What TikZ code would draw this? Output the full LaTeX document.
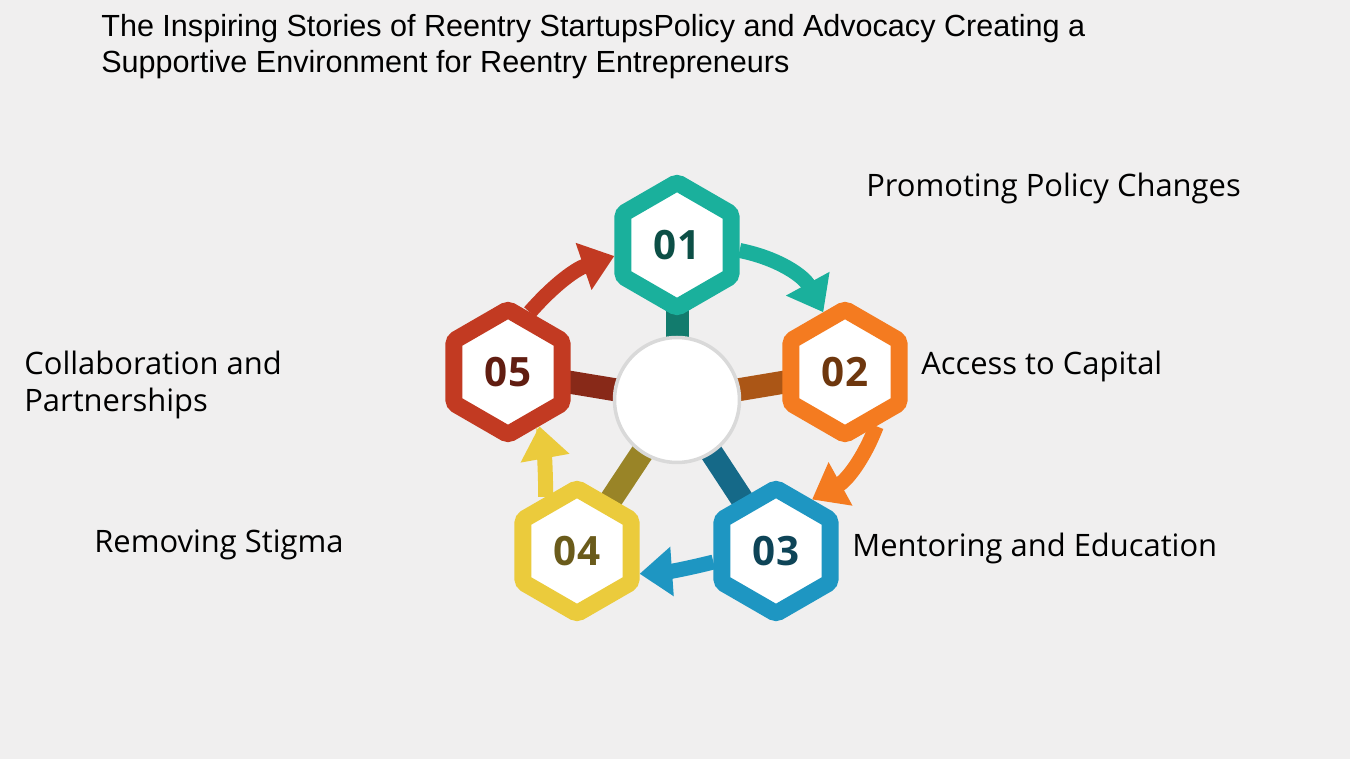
\documentclass[tikz,border=0pt]{standalone}
\usepackage{fontspec}
\setmainfont{Open Sans}
\newfontfamily\titlefont{Liberation Sans}
\usetikzlibrary{shapes.geometric,arrows.meta}
\definecolor{bgray}{HTML}{F0EFEF}
\definecolor{cteal}{HTML}{1AB09C}
\definecolor{corange}{HTML}{F47B20}
\definecolor{cblue}{HTML}{1E96C2}
\definecolor{cyellow}{HTML}{EBCB3C}
\definecolor{cred}{HTML}{C23A22}
\tikzset{
  hexa/.style={regular polygon, regular polygon sides=6, shape border rotate=30,
    minimum size=2.5cm, line width=0.34cm, fill=white, rounded corners=2pt,
    font=\fontsize{23}{23}\selectfont\bfseries},
  label/.style={font=\fontsize{17.6}{21.5}\selectfont, align=left, anchor=west, inner sep=0pt},
  bar/.style={line width=0.46cm},
  turn/.style={line width=0.3cm, -{Triangle[length=0.65cm,width=0.95cm]}}
}
\begin{document}
\begin{tikzpicture}[x=0.02cm,y=-0.02cm]
\fill[bgray] (0,0) rectangle (1350,759);
\useasboundingbox (0,0) rectangle (1350,759);
% title
\node[anchor=north west, align=left, inner sep=0pt, font=\titlefont\fontsize{17.4}{20.5}\selectfont]
  (title) at (101,14) {The Inspiring Stories of Reentry StartupsPolicy and Advocacy Creating a\\Supportive Environment for Reentry Entrepreneurs};
% hub
\coordinate (hub) at (677,400);
\coordinate (h1) at (677,245);
\coordinate (h2) at (845,372);
\coordinate (h3) at (776,551);
\coordinate (h4) at (577,551);
\coordinate (h5) at (508,372);
\draw[bar, cteal!70!black] (hub) -- (h1);
\draw[bar, corange!70!black] (hub) -- (h2);
\draw[bar, cblue!70!black] (hub) -- (h3);
\draw[bar, cyellow!65!black] (hub) -- (h4);
\draw[bar, cred!70!black] (hub) -- (h5);
\node[circle, fill=white, draw=gray!30, line width=2pt, minimum size=2.5cm] (center) at (hub) {};
% hexagons
\node[hexa, draw=cteal, text=cteal!45!black] (n1) at (h1) {01};
\node[hexa, draw=corange, text=corange!45!black] (n2) at (h2) {02};
\node[hexa, draw=cblue, text=cblue!45!black] (n3) at (h3) {03};
\node[hexa, draw=cyellow, text=cyellow!45!black] (n4) at (h4) {04};
\node[hexa, draw=cred, text=cred!50!black] (n5) at (h5) {05};
% arrows
\draw[turn, cteal] (n1.-5) to[bend left=25] (n2.110);
\draw[turn, corange] (n2.-60) to[bend left=20] (n3.55);
\draw[turn, cblue] (n3.190) to[bend left=5] (n4.-20);
\draw[turn, cyellow] (n4.120) to[bend right=5] (n5.-60);
\draw[turn, cred] (n5.70) to[bend left=15] (n1.190);
% labels
\node[label] (t1) at (866,188) {Promoting Policy Changes};
\node[label] (t2) at (921,366) {Access to Capital};
\node[label] (t3) at (852,548) {Mentoring and Education};
\node[label] (t4) at (94,545) {Removing Stigma};
\node[label] (t5) at (24,385) {Collaboration and\\Partnerships};
\end{tikzpicture}
\end{document}
